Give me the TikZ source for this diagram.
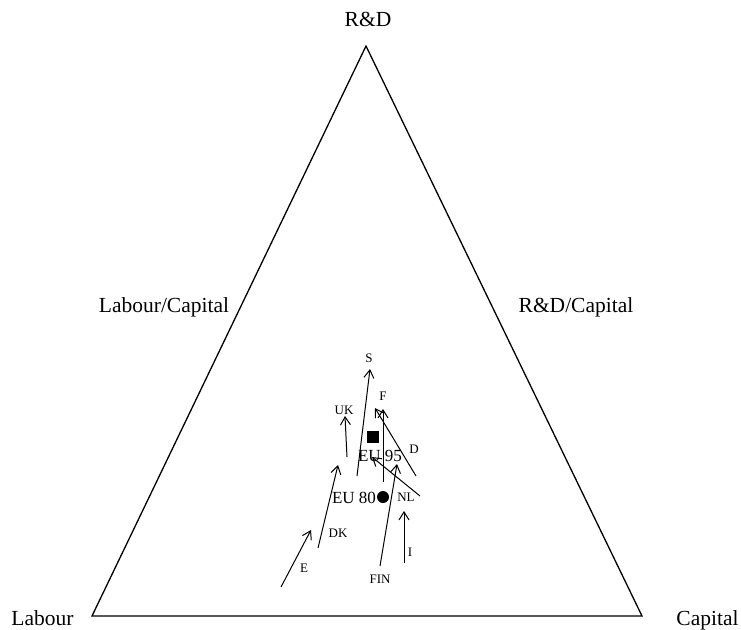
\documentclass[tikz,border=0pt]{standalone}
\usepackage{fontspec}
\setmainfont{Liberation Serif}
\usetikzlibrary{arrows.meta}

\tikzset{
  corner/.style={font=\fontsize{21.5}{25}\selectfont, inner sep=0pt, anchor=base},
  country/.style={font=\fontsize{13}{15}\selectfont},
  eulabel/.style={font=\fontsize{17}{20}\selectfont},
  move/.style={line width=1pt, -{Straight Barb[length=8pt,width=10pt]}}
}

\begin{document}
\begin{tikzpicture}[x=1pt, y=-1pt]
        \useasboundingbox (0,0) rectangle (741,629);

        % triangle
        \coordinate (labour) at (92,616);
        \coordinate (capital) at (642,616);
        \coordinate (rd) at (366,46);
        \draw[line width=1.3pt, line join=miter] (labour) -- (capital) -- (rd) -- cycle;

        % corner and side labels
        \node[corner] (nrd) at (368,26) {R\&D};
        \node[corner] (nlab) at (42.5,625) {Labour};
        \node[corner] (ncap) at (707.5,625) {Capital};
        \node[corner] (nlabcap) at (164,312) {Labour/Capital};
        \node[corner] (nrdcap) at (576,312) {R\&D/Capital};

        % country movements 1980 -> 1995
        \foreach \name/\xa/\ya/\xb/\yb/\lx/\ly in {
            S/357/476/370/369/369/358,
            UK/347/457/345/416/344/410,
            F/383/482/383/409/383/396,
            D/416/476/375/408/414/449,
            NL/420/496/372/457/406/497,
            FIN/380/566/397/464/380/579,
            I/404/563/404/511/410/552,
            DK/318/548/338/465/338/533,
            E/281/587/311/530/304/568}
        {
            \coordinate (\name from) at (\xa,\ya);
            \coordinate (\name to) at (\xb,\yb);
            \draw[move] (\name from) -- (\name to);
            \node[country] (lab\name) at (\lx,\ly) {\name};
        }

        % EU averages
        \node[fill=black, minimum size=12pt, inner sep=0pt] (eu95) at (373,437) {};
        \node[eulabel] (labeu95) at (380,456) {EU 95};
        \node[circle, fill=black, minimum size=12pt, inner sep=0pt] (eu80) at (383,497) {};
        \node[eulabel] (labeu80) at (354,498) {EU 80};
\end{tikzpicture}
\end{document}
